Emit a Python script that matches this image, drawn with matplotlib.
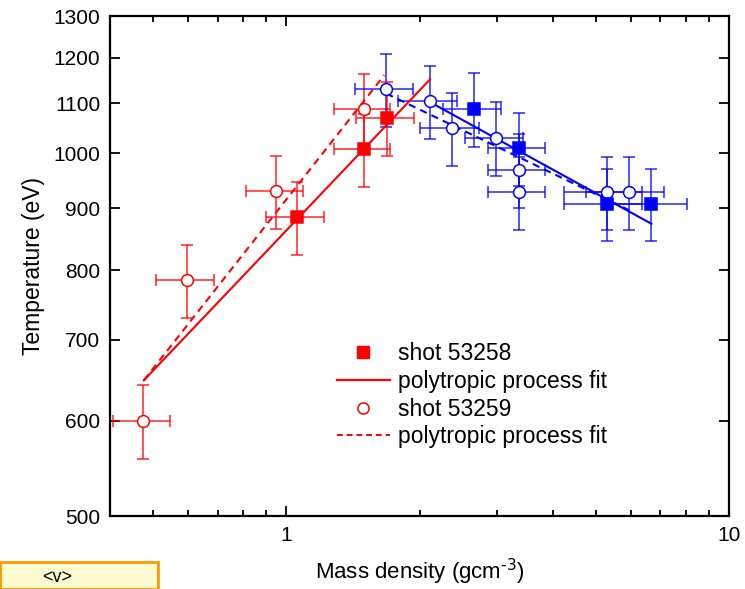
import numpy as np
import matplotlib; matplotlib.use("Agg")
import matplotlib.pyplot as plt
from matplotlib.lines import Line2D
from matplotlib.patches import Rectangle
from matplotlib.ticker import FixedLocator, NullLocator, NullFormatter, FuncFormatter, LogLocator

plt.rcParams["font.family"] = ["Liberation Sans", "DejaVu Sans"]

RED = "#ff0000"; BLUE = "#0000ff"

# shot 53258 (filled squares)
r_sq_x = [1.06, 1.50, 1.69]
r_sq_y = [885, 1008, 1070]
r_sq_xe = [0.16, 0.22, 0.25]
r_sq_ye = [62, 70, 75]
b_sq_x = [2.66, 3.35, 5.31, 6.68]
b_sq_y = [1089, 1010, 908, 908]
b_sq_xe = [0.40, 0.50, 1.06, 1.34]
b_sq_ye = [76, 70, 62, 62]

# shot 53259 (open circles)
r_ci_x = [0.476, 0.598, 0.95, 1.50]
r_ci_y = [600, 785, 930, 1088]
r_ci_xe = [0.07, 0.09, 0.14, 0.22]
r_ci_ye = [42, 55, 65, 76]
b_ci_x = [1.68, 2.11, 2.37, 2.98, 3.35, 3.35, 5.31, 5.95]
b_ci_y = [1130, 1105, 1049, 1030, 969, 928, 928, 928]
b_ci_xe = [0.25, 0.32, 0.36, 0.45, 0.50, 0.50, 1.06, 1.20]
b_ci_ye = [79, 77, 73, 72, 68, 65, 65, 65]

# polytropic fits (power laws -> straight segments in log-log)
fit_r_solid_x = [0.477, 2.114]; fit_r_solid_y = [648, 1152]
fit_r_dash_x = [0.477, 1.665];  fit_r_dash_y = [648, 1161]
fit_b_solid_x = [2.11, 6.68];   fit_b_solid_y = [1103, 874]
fit_b_dash_x = [1.683, 5.95];   fit_b_dash_y = [1121, 897]

YTICKS = [500, 600, 700, 800, 900, 1000, 1100, 1200, 1300]

fig = plt.figure(figsize=(7.45, 5.89), dpi=100)
ax = fig.add_axes([110/745, 73/589, 619/745, 500/589])
ax.set_xscale("log"); ax.set_yscale("log")

DASH = (0, (3.5, 2.5))
ax.plot(fit_r_dash_x, fit_r_dash_y, color=RED, lw=1.5, ls=DASH, zorder=3)
ax.plot(fit_r_solid_x, fit_r_solid_y, color=RED, lw=1.5, zorder=3)
ax.plot(fit_b_dash_x, fit_b_dash_y, color=BLUE, lw=1.5, ls=DASH, zorder=3)
ax.plot(fit_b_solid_x, fit_b_solid_y, color=BLUE, lw=1.5, zorder=3)

def eb(x, y, xe, ye, c, mk, filled):
    ax.errorbar(x, y, xerr=xe, yerr=ye, fmt="none", ecolor=c, elinewidth=1.1,
                capsize=4, capthick=1.1, alpha=0.85, zorder=2)
    ax.plot(x, y, ls="none", marker=mk, ms=8.5 if mk == "o" else 8,
            mfc=c if filled else "white", mec=c, mew=1.1, zorder=4)

eb(r_ci_x, r_ci_y, r_ci_xe, r_ci_ye, RED, "o", False)
eb(b_ci_x, b_ci_y, b_ci_xe, b_ci_ye, BLUE, "o", False)
eb(r_sq_x, r_sq_y, r_sq_xe, r_sq_ye, RED, "s", True)
eb(b_sq_x, b_sq_y, b_sq_xe, b_sq_ye, BLUE, "s", True)

ax.set_xlim(0.4, 10); ax.set_ylim(500, 1300)
ax.yaxis.set_major_locator(FixedLocator(YTICKS))
ax.yaxis.set_major_formatter(FuncFormatter(lambda v, p: f"{v:.0f}"))
ax.yaxis.set_minor_locator(NullLocator())
ax.xaxis.set_major_locator(FixedLocator([1, 10]))
ax.xaxis.set_major_formatter(FuncFormatter(lambda v, p: f"{v:g}"))
ax.xaxis.set_minor_locator(LogLocator(base=10, subs=np.arange(2, 10)))
ax.xaxis.set_minor_formatter(NullFormatter())
ax.tick_params(which="both", direction="in", top=True, right=True, width=1.3, labelsize=15)
ax.tick_params(which="major", length=7, pad=7)
ax.tick_params(which="minor", length=4)
for s in ax.spines.values():
    s.set_linewidth(1.6)

ax.set_xlabel(r"Mass density (gcm$^{\text{-}3}$)", fontsize=16, labelpad=9)
ax.set_ylabel("Temperature (eV)", fontsize=16.5, labelpad=6)

handles = [Line2D([0], [0], ls="none", marker="s", ms=8, mfc=RED, mec=RED),
           Line2D([0], [0], color=RED, lw=1.6),
           Line2D([0], [0], ls="none", marker="o", ms=8, mfc="white", mec=RED, mew=1.1),
           Line2D([0], [0], color=RED, lw=1.4, ls=(0, (3, 2)))]
labels = ["shot 53258", "polytropic process fit", "shot 53259", "polytropic process fit"]
ax.legend(handles, labels, loc="upper left", bbox_to_anchor=(0.348, 0.37), frameon=False,
          fontsize=16.5, handlelength=2.3, handletextpad=0.35, labelspacing=0.2, borderpad=0)

# cropped slide element at bottom-left
fig.patches.append(Rectangle((0, 0), 158/745, 27/589, transform=fig.transFigure,
                             fc="#fffbd0", ec="#ff9900", lw=2, zorder=0))
fig.text(57/745, 12/589, "<v>", ha="center", va="center", fontsize=13)

fig.savefig("out.png", dpi=100)
